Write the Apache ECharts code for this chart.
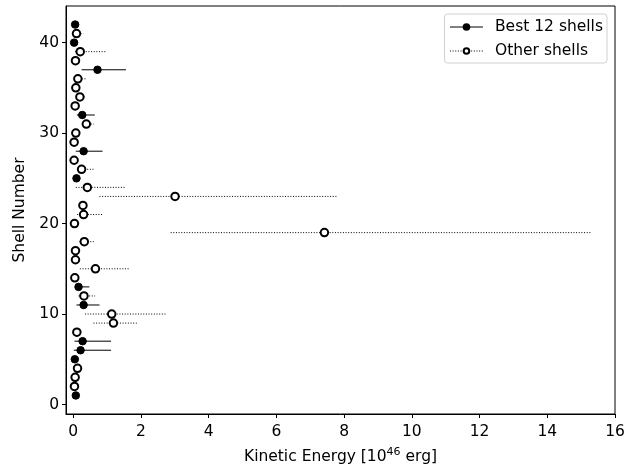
<!DOCTYPE html>
<html>
<head>
<meta charset="utf-8">
<script src="https://cdn.jsdelivr.net/npm/echarts@6/dist/echarts.min.js"></script>
<style>
  html, body { margin: 0; padding: 0; background: #fff; }
  #chart { width: 644px; height: 465px; }
</style>
</head>
<body>
<div id="chart"></div>
<script>
// Best 12 shells: shell number, kinetic energy and error range [1e46 erg]
const bestShell = [42, 40, 37, 32, 28, 25, 13, 11, 7, 6, 5, 1];
const bestKE = [0.06, 0.03, 0.72, 0.27, 0.31, 0.10, 0.16, 0.31, 0.28, 0.22, 0.05, 0.08];
const bestLow = [0.06, 0.03, 0.25, 0.11, 0.08, 0.06, 0.08, 0.10, 0.04, 0.02, 0.05, 0.08];
const bestHigh = [0.06, 0.03, 1.56, 0.64, 0.87, 0.14, 0.48, 0.78, 1.12, 1.12, 0.05, 0.08];

// Other shells
const otherShell = [41, 39, 38, 36, 35, 34, 33, 31, 30, 29, 27, 26, 24, 23, 22, 21, 20,
    19, 18, 17, 16, 15, 14, 12, 10, 9, 8, 4, 3, 2];
const otherKE = [0.10, 0.21, 0.07, 0.14, 0.08, 0.20, 0.06, 0.39, 0.08, 0.03, 0.03, 0.25,
    0.42, 3.01, 0.29, 0.31, 0.04, 7.42, 0.33, 0.07, 0.07, 0.66, 0.05, 0.32, 1.14, 1.19,
    0.11, 0.13, 0.06, 0.04];
const otherLow = [0.06, 0.06, 0.07, 0.10, 0.08, 0.15, 0.06, 0.29, 0.08, 0.03, 0.03, 0.18,
    0.08, 0.78, 0.25, 0.12, 0.04, 2.88, 0.19, 0.07, 0.07, 0.20, 0.05, 0.16, 0.35, 0.60,
    0.11, 0.13, 0.06, 0.04];
const otherHigh = [0.30, 1.00, 0.07, 0.38, 0.08, 0.36, 0.06, 0.62, 0.08, 0.03, 0.03, 0.60,
    1.55, 7.78, 0.33, 0.90, 0.04, 15.31, 0.61, 0.07, 0.07, 1.67, 0.05, 0.65, 2.73, 1.88,
    0.11, 0.13, 0.06, 0.04];

const xTicks = [0, 2, 4, 6, 8, 10, 12, 14, 16];
const yTicks = [0, 10, 20, 30, 40];

const FONT = "DejaVu Sans";
const FS = 15.5;
const DOTS = [1, 1.65];

const chart = echarts.init(document.getElementById("chart"), null, { renderer: "canvas" });

function errorBars(shells, low, high, dash) {
    return {
        type: "custom",
        name: "err",
        z: 1,
        silent: true,
        data: shells.map((s, i) => [low[i], high[i], s]),
        renderItem: (params, api) => {
            const a = api.coord([api.value(0), api.value(2)]);
            const b = api.coord([api.value(1), api.value(2)]);
            if (b[0] - a[0] < 0.5) return null;
            return {
                type: "line",
                shape: { x1: a[0], y1: a[1], x2: b[0], y2: b[1] },
                style: { stroke: "#000", lineWidth: 1, lineDash: dash },
            };
        },
    };
}

function points(name, shells, ke, symbol) {
    return {
        type: "line",
        name: name,
        z: 3,
        silent: true,
        symbol: symbol,
        symbolSize: 7.5,
        showSymbol: true,
        lineStyle: { opacity: 0 },
        itemStyle: { color: "#000", borderColor: "#000", borderWidth: 1 },
        data: shells.map((s, i) => [ke[i], s]),
    };
}

const option = {
    animation: false,
    backgroundColor: "#fff",
    grid: {
        left: 66, right: 29, top: 6, bottom: 51,
        containLabel: false,
        outerBoundsMode: "none",
        show: true, borderColor: "#000", borderWidth: 1,
    },
    legend: {
        orient: "vertical",
        right: 37,
        top: 14,
        padding: [5, 4, 4, 5],
        itemGap: 8,
        itemWidth: 33,
        itemHeight: 7,
        backgroundColor: "#fff",
        borderColor: "#d0d0d0",
        borderWidth: 1,
        borderRadius: 3,
        textStyle: { fontFamily: FONT, fontSize: FS, color: "#000", padding: [0, 0, 0, 7] },
        data: [
            {
                name: "Best 12 shells",
                lineStyle: { color: "#000", width: 1, type: "solid", opacity: 1 },
            },
            {
                name: "Other shells",
                lineStyle: { color: "#000", width: 1, type: DOTS, opacity: 1 },
            },
        ],
    },
    xAxis: {
        type: "value",
        min: -0.21,
        max: 16,
        name: "Kinetic Energy [10{sup|46} erg]",
        nameLocation: "middle",
        nameGap: 33,
        nameTextStyle: {
            fontFamily: FONT, fontSize: FS, color: "#000",
            rich: { sup: { fontFamily: FONT, fontSize: 11, color: "#000", verticalAlign: "top", padding: [0, 0, 8, 0] } },
        },
        splitLine: { show: false },
        axisLine: { show: true, onZero: false, lineStyle: { color: "#000", width: 1 } },
        axisTick: { show: true, length: 4, customValues: xTicks, lineStyle: { color: "#000" } },
        axisLabel: { customValues: xTicks, fontFamily: FONT, fontSize: FS, color: "#000", margin: 10 },
    },
    yAxis: {
        type: "value",
        min: -1.05,
        max: 44.05,
        name: "Shell Number",
        nameLocation: "middle",
        nameGap: 31,
        nameTextStyle: { fontFamily: FONT, fontSize: FS, color: "#000" },
        splitLine: { show: false },
        axisLine: { show: true, onZero: false, lineStyle: { color: "#000", width: 1 } },
        axisTick: { show: true, length: 4, customValues: yTicks, lineStyle: { color: "#000" } },
        axisLabel: { customValues: yTicks, fontFamily: FONT, fontSize: FS, color: "#000", margin: 7 },
    },
    series: [
        errorBars(bestShell, bestLow, bestHigh, null),
        errorBars(otherShell, otherLow, otherHigh, DOTS),
        points("Best 12 shells", bestShell, bestKE, "circle"),
        points("Other shells", otherShell, otherKE, "emptyCircle"),
    ],
};

chart.setOption(option);
</script>
</body>
</html>
